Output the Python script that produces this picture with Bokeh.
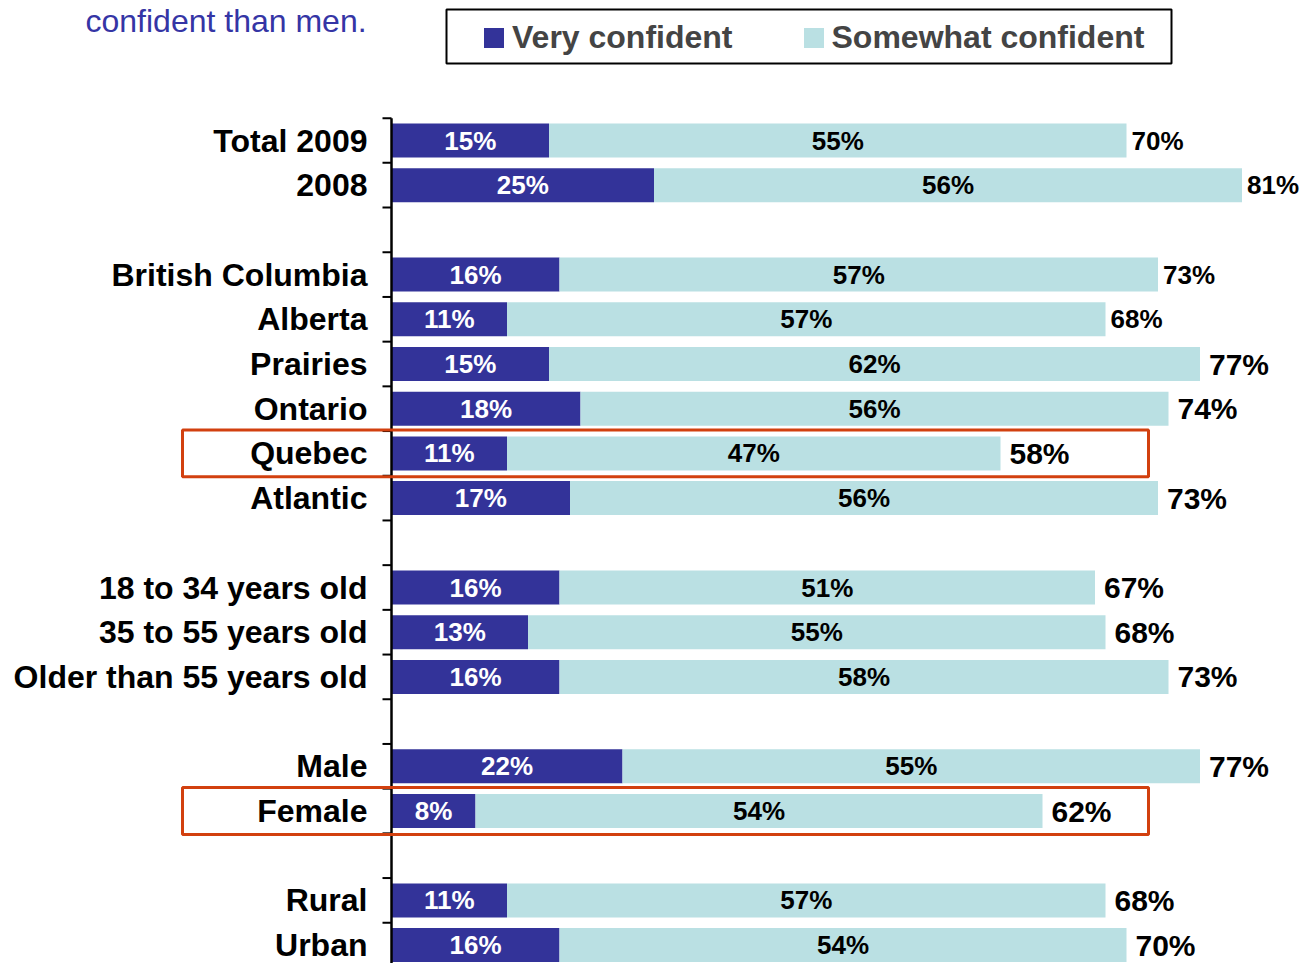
from bokeh.plotting import figure
from bokeh.models import Range1d, ColumnDataSource, Legend, LegendItem
from bokeh.core.properties import value
from bokeh.embed import file_html
from bokeh.resources import INLINE

# ---------------- data ----------------
categories = ["Total 2009", "2008",
              "British Columbia", "Alberta", "Prairies", "Ontario", "Quebec", "Atlantic",
              "18 to 34 years old", "35 to 55 years old", "Older than 55 years old",
              "Male", "Female",
              "Rural", "Urban"]
group_sizes = [2, 6, 3, 2, 2]
very = [15, 25, 16, 11, 15, 18, 11, 17, 16, 13, 16, 22, 8, 11, 16]
somewhat = [55, 56, 57, 57, 62, 56, 47, 56, 51, 55, 58, 55, 54, 57, 54]
totals = [70, 81, 73, 68, 77, 74, 58, 73, 67, 68, 73, 77, 62, 68, 70]
highlight = ["Quebec", "Female"]
series_names = ["Very confident", "Somewhat confident"]
subtitle = "confident than men."

# ---------------- style ----------------
DARK = "#333399"
LIGHT = "#BAE0E3"
RED = "#D2400F"
FONT = "Liberation Sans"
W, H = 1300, 963
PX_PER_UNIT = 10.5      # pixels per percentage point
AXIS_PX = 391           # x of the 0% line
ROW_PX = 44.7           # pixels per row
FIRST_ROW_PX = 140      # y of the first row's centre
# total labels: the first four rows use a smaller font in the original slide
total_font = ["26px"] * 4 + ["30px"] * (len(categories) - 4)
total_offset = [5] * 4 + [9] * (len(categories) - 4)

# row positions with one blank row between groups
rows = []
r = 0
for g in group_sizes:
    for _ in range(g):
        rows.append(r)
        r += 1
    r += 1
n_rows = r - 1

def px_to_x(px):
    return (px - AXIS_PX) / PX_PER_UNIT

def px_to_y(py):
    return (py - FIRST_ROW_PX) / ROW_PX

x_start, x_end = px_to_x(0), px_to_x(W)
y_top, y_bottom = px_to_y(0), px_to_y(H)

cds = ColumnDataSource(dict(
    cat=categories,
    y=rows,
    very=very,
    s_end=[v + s for v, s in zip(very, somewhat)],
    v_mid=[v / 2 for v in very],
    s_mid=[v + s / 2 for v, s in zip(very, somewhat)],
    vlab=[f"{v}%" for v in very],
    slab=[f"{s}%" for s in somewhat],
    tlab=[f"{t}%" for t in totals],
    tfont=total_font,
    toff=total_offset,
))

p = figure(width=W, height=H,
           x_range=Range1d(x_start, x_end),
           y_range=Range1d(y_bottom, y_top),
           output_backend="svg", toolbar_location=None,
           x_axis_location=None, y_axis_location=None,
           min_border=0, outline_line_color=None)
p.grid.grid_line_color = None
p.background_fill_color = "white"
p.border_fill_color = "white"

bar_h = 0.76
r_very = p.hbar(y="y", left=0, right="very", height=bar_h, fill_color=DARK,
                line_color=None, source=cds)
r_some = p.hbar(y="y", left="very", right="s_end", height=bar_h, fill_color=LIGHT,
                line_color=None, source=cds)

# value labels
p.text(x="v_mid", y="y", text="vlab", source=cds, text_color="white",
       text_font=value(FONT), text_font_style="bold", text_font_size="26px",
       text_align="center", text_baseline="middle")
p.text(x="s_mid", y="y", text="slab", source=cds, text_color="black",
       text_font=value(FONT), text_font_style="bold", text_font_size="26px",
       text_align="center", text_baseline="middle")
p.text(x="s_end", y="y", text="tlab", source=cds, text_color="black", x_offset="toff",
       text_font=value(FONT), text_font_style="bold", text_font_size="tfont",
       text_align="left", text_baseline="middle")

# category labels
p.text(x=0, y="y", text="cat", source=cds, text_color="black", x_offset=-24,
       text_font=value(FONT), text_font_style="bold", text_font_size="32px",
       text_align="right", text_baseline="middle")

# axis line and ticks at row boundaries
p.segment(x0=[0], y0=[-0.5], x1=[0], y1=[y_bottom], line_color="black", line_width=2.5)
bounds = [i - 0.5 for i in range(n_rows + 1)]
tick_len = 9 / PX_PER_UNIT
p.segment(x0=[-tick_len] * len(bounds), y0=bounds, x1=[0] * len(bounds), y1=bounds,
          line_color="black", line_width=2)

# highlight boxes
box_left, box_right = px_to_x(182), px_to_x(1148)
hl_y = [rows[categories.index(c)] for c in highlight]
p.rect(x=[(box_left + box_right) / 2] * len(hl_y), y=hl_y,
       width=box_right - box_left, height=1.05,
       fill_color=None, line_color=RED, line_width=3)

# subtitle fragment (top of slide)
p.text(x=[px_to_x(85)], y=[px_to_y(2)], text=[subtitle], text_color="#3535A5",
       text_font=value(FONT), text_font_size="32px",
       text_align="left", text_baseline="top")

# legend frame
lx0, lx1 = px_to_x(446), px_to_x(1171)
ly0, ly1 = px_to_y(9), px_to_y(63)
p.rect(x=[(lx0 + lx1) / 2], y=[(ly0 + ly1) / 2], width=lx1 - lx0, height=ly1 - ly0,
       fill_color="white", line_color="black", line_width=2, level="underlay")

legend = Legend(items=[LegendItem(label=series_names[0], renderers=[r_very]),
                       LegendItem(label=series_names[1], renderers=[r_some])],
                orientation="horizontal", location=(481, H - 56),
                padding=0, margin=0, spacing=68,
                glyph_width=25, glyph_height=25, label_standoff=6,
                label_height=38,
                label_text_font=FONT, label_text_font_style="bold",
                label_text_font_size="32px",
                border_line_color=None, background_fill_alpha=0)
p.add_layout(legend)

open("out.html", "w").write(file_html(p, INLINE))
